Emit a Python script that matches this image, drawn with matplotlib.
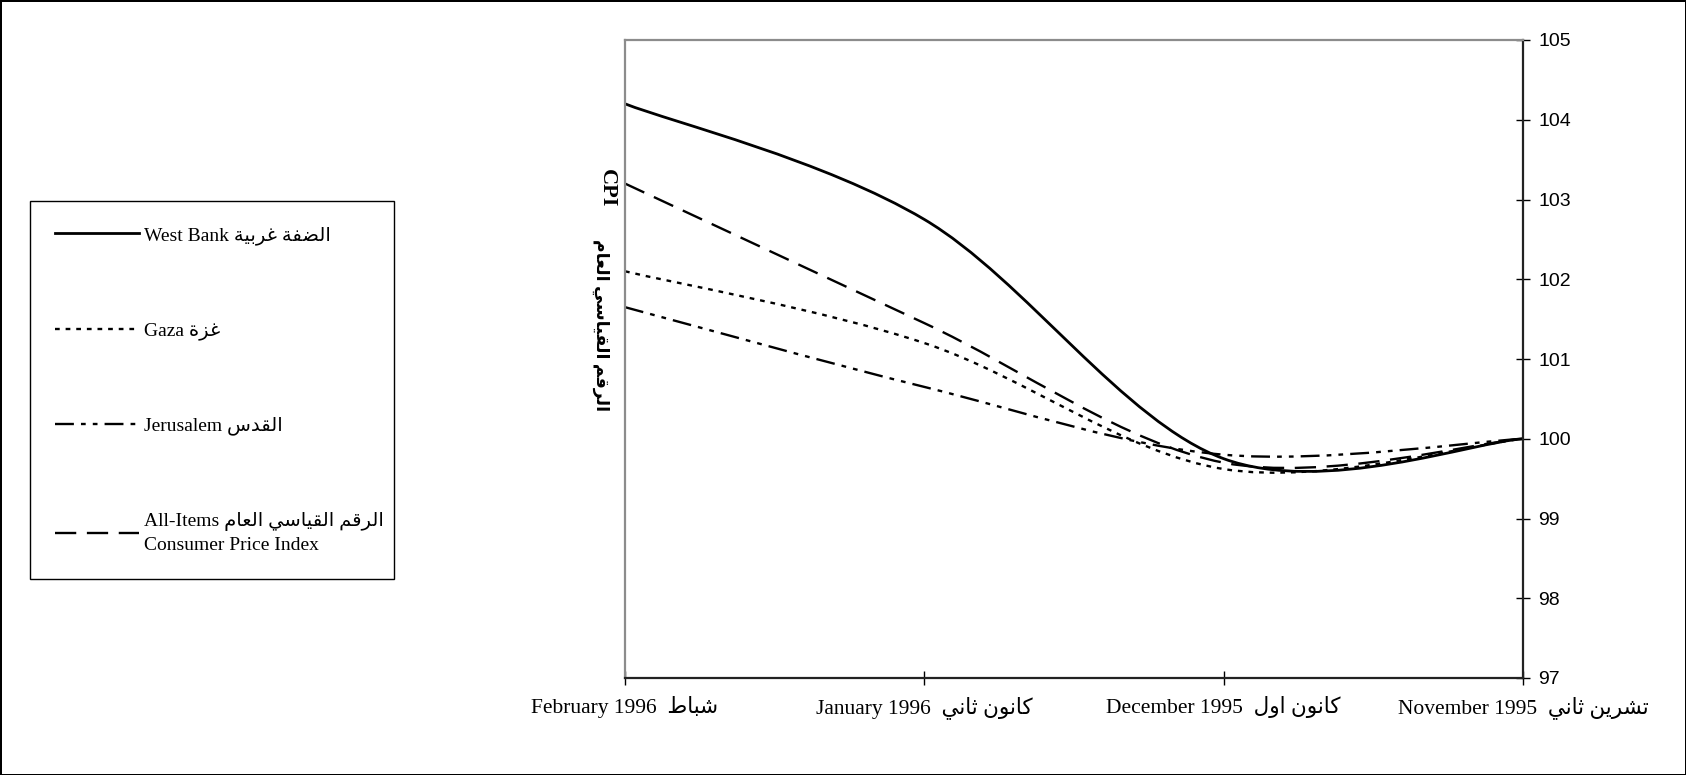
import matplotlib
matplotlib.use("Agg")
import matplotlib.pyplot as plt
from matplotlib.path import Path
from matplotlib.patches import PathPatch
from matplotlib.lines import Line2D

# data: CPI, base November 1995 = 100 (x runs from Feb 1996 back to Nov 1995)
months_en = ["February 1996", "January 1996", "December 1995", "November 1995"]
months_ar = ["شباط", "كانون ثاني", "كانون اول", "تشرين ثاني"]
west_bank = [104.2, 102.75, 99.75, 100.0]
gaza = [102.1, 101.2, 99.62, 100.0]
jerusalem = [101.65, 100.65, 99.8, 100.0]
all_items = [103.2, 101.45, 99.7, 100.0]
yticks = [97, 98, 99, 100, 101, 102, 103, 104, 105]

# arabic presentation forms: letter -> (isolated code point, joins to next letter)
AR_FORMS = {
    'ا': (0xFE8D, False), 'ب': (0xFE8F, True), 'ة': (0xFE93, False),
    'ت': (0xFE95, True), 'ث': (0xFE99, True), 'د': (0xFEA9, False),
    'ر': (0xFEAD, False), 'ز': (0xFEAF, False), 'س': (0xFEB1, True),
    'ش': (0xFEB5, True), 'ض': (0xFEBD, True), 'ط': (0xFEC1, True),
    'ع': (0xFEC9, True), 'غ': (0xFECD, True), 'ف': (0xFED1, True),
    'ق': (0xFED5, True), 'ك': (0xFED9, True), 'ل': (0xFEDD, True),
    'م': (0xFEE1, True), 'ن': (0xFEE5, True), 'و': (0xFEED, False),
    'ي': (0xFEF1, True),
}


def ar(s):
    # shape arabic letters and put them in visual (left to right) order
    out = []
    for i, ch in enumerate(s):
        if ch not in AR_FORMS:
            out.append(ch)
            continue
        base, dual = AR_FORMS[ch]
        prev = s[i - 1] if i > 0 else ''
        nxt = s[i + 1] if i + 1 < len(s) else ''
        jp = prev in AR_FORMS and AR_FORMS[prev][1]
        jn = dual and nxt in AR_FORMS
        if jp and jn:
            cp = base + 3
        elif jp:
            cp = base + 1
        elif jn:
            cp = base + 2
        else:
            cp = base
        out.append(chr(cp))
    return ''.join(reversed(out))


def smooth_path(xs, ys):
    # excel style smoothed line, as cubic bezier segments through the points
    n = len(xs)
    verts = [(xs[0], ys[0])]
    codes = [Path.MOVETO]
    for i in range(n - 1):
        p0 = i - 1 if i > 0 else i
        p3 = i + 2 if i + 2 < n else i + 1
        c1 = (xs[i] + (xs[i + 1] - xs[p0]) / 6, ys[i] + (ys[i + 1] - ys[p0]) / 6)
        c2 = (xs[i + 1] - (xs[p3] - xs[i]) / 6, ys[i + 1] - (ys[p3] - ys[i]) / 6)
        verts += [c1, c2, (xs[i + 1], ys[i + 1])]
        codes += [Path.CURVE4] * 3
    return Path(verts, codes)


serif = ['Liberation Serif', 'DejaVu Sans']
plt.rcParams['font.family'] = serif

fig = plt.figure(figsize=(16.86, 7.75), dpi=100)
fig.patch.set_edgecolor('black')
fig.patch.set_linewidth(2)
ax = fig.add_axes([625 / 1686, 1 - 678 / 775, 898 / 1686, 638 / 775])

x = list(range(len(months_en)))
styles = [
    (west_bank, '-', 2.0),
    (gaza, (0, (2, 2.5)), 1.7),
    (jerusalem, (0, (8, 3, 2, 3, 2, 3)), 1.7),
    (all_items, (0, (9, 4.5)), 1.7),
]
handles = []
for ys, ls, lw in styles:
    patch = PathPatch(smooth_path(x, ys), fill=False, edgecolor='black',
                      linestyle=ls, linewidth=lw, capstyle='butt')
    ax.add_patch(patch)
    handles.append(Line2D([], [], color='black', linestyle=ls, linewidth=lw))

ax.set_xlim(0, 3)
ax.set_ylim(97, 105)
ax.set_xticks(x)
ax.set_xticklabels([e + '  ' + ar(a) for e, a in zip(months_en, months_ar)],
                   fontsize=15.5)
ax.yaxis.tick_right()
ax.set_yticks(yticks)
ax.set_yticklabels([str(v) for v in yticks], fontsize=14,
                   family=['Liberation Sans', 'DejaVu Sans'])
ax.tick_params(axis='x', direction='inout', length=9.5, width=1, pad=8)
ax.tick_params(axis='y', direction='inout', length=10, width=1, pad=6)

for side in ['top', 'left']:
    ax.spines[side].set_color('#8c8c8c')
    ax.spines[side].set_linewidth(1.6)
for side in ['bottom', 'right']:
    ax.spines[side].set_color('#222222')
    ax.spines[side].set_linewidth(1.6)

# y axis title, rotated: CPI on top, arabic below
fig.text(607 / 1686, 1 - 188 / 775, 'CPI', rotation=-90, ha='center',
         va='center', fontsize=16, fontweight='bold')
fig.text(601 / 1686, 1 - 325 / 775, ar('الرقم القياسي العام'), rotation=-90,
         ha='center', va='center', fontsize=12.5, fontweight='bold')

labels = [
    'West Bank ' + ar('الضفة غربية'),
    'Gaza ' + ar('غزة'),
    'Jerusalem ' + ar('القدس'),
    'All-Items ' + ar('الرقم القياسي العام') + '\nConsumer Price Index',
]
leg = fig.legend(handles, labels, loc='upper left',
                 bbox_to_anchor=(30 / 1686, 1 - 201 / 775, 364 / 1686, 0),
                 mode='expand', borderaxespad=0, fontsize=14,
                 handlelength=4.3, handletextpad=0.25, labelspacing=3.95,
                 borderpad=1.3, fancybox=False, framealpha=1)
leg.get_frame().set_edgecolor('black')
leg.get_frame().set_linewidth(1)
for t in leg.get_texts():
    t.set_linespacing(1.45)

fig.savefig('out.png', dpi=100)
